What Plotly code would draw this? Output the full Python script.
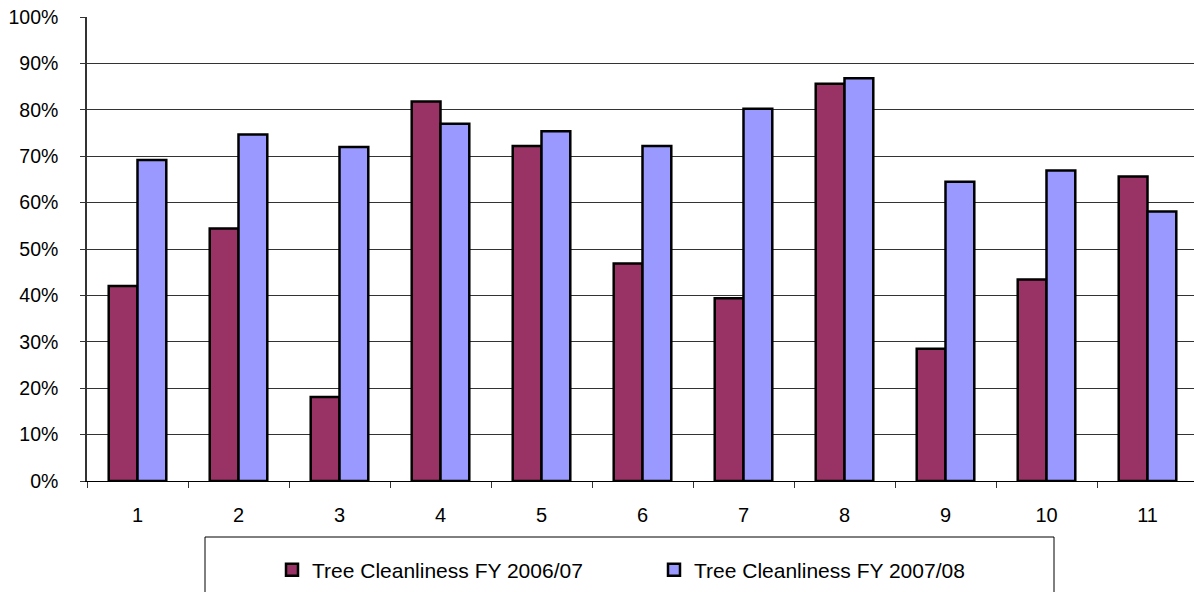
import plotly.graph_objects as go

categories = ["1", "2", "3", "4", "5", "6", "7", "8", "9", "10", "11"]
fy_2006_07 = [42.0, 54.4, 18.1, 81.8, 72.2, 46.9, 39.4, 85.6, 28.5, 43.4, 65.6]
fy_2007_08 = [69.2, 74.7, 72.0, 77.0, 75.4, 72.2, 80.2, 86.8, 64.5, 66.9, 58.1]
series_names = ["Tree Cleanliness FY 2006/07", "Tree Cleanliness FY 2007/08"]
y_ticks = [0, 10, 20, 30, 40, 50, 60, 70, 80, 90, 100]
y_tick_labels = ["0%", "10%", "20%", "30%", "40%", "50%", "60%", "70%", "80%", "90%", "100%"]

W, H = 1194, 592
L, R, T, B = 87, 0, 17, 111
pw, ph = W - L - R, H - T - B

def px_x(p):
    return (p - L) / pw

def px_y(p):
    return (H - B - p) / ph

FONT = "Liberation Sans, Arial, sans-serif"

fig = go.Figure()
fig.add_trace(go.Bar(x=categories, y=fy_2006_07, name=series_names[0],
                     marker=dict(color="#993366", line=dict(color="black", width=2.5))))
fig.add_trace(go.Bar(x=categories, y=fy_2007_08, name=series_names[1],
                     marker=dict(color="#9999FF", line=dict(color="black", width=2.5))))

fig.update_layout(
    width=W, height=H,
    margin=dict(l=L, r=R, t=T, b=B, pad=0),
    paper_bgcolor="white", plot_bgcolor="white",
    barmode="group", bargap=0.43, bargroupgap=0,
    font=dict(family=FONT, size=19, color="black"),
    showlegend=True,
    legend=dict(orientation="h", x=px_x(272), y=px_y(570), xanchor="left", yanchor="middle",
                bgcolor="rgba(0,0,0,0)", borderwidth=0, font=dict(size=21),
                entrywidth=337, entrywidthmode="pixels", itemwidth=30,
                traceorder="normal"),
    xaxis=dict(type="category", range=[-0.5, 10.5 - (L + 11 * 101 - W) / 101],
               showline=True, linecolor="black", linewidth=1,
               ticks="outside", ticklen=6, tickcolor="#333", tickwidth=1,
               tickson="boundaries", showgrid=False, ticklabelstandoff=16,
               tickfont=dict(size=20)),
    yaxis=dict(range=[0, 100], tickmode="array", tickvals=y_ticks, ticktext=y_tick_labels,
               showline=True, linecolor="#333", linewidth=1.5,
               ticks="outside", ticklen=5, tickcolor="#333", tickwidth=1,
               showgrid=True, gridcolor="#333", gridwidth=1,
               zeroline=False, ticklabelstandoff=18, tickfont=dict(size=19.5)),
    shapes=[dict(type="rect", xref="paper", yref="paper",
                 x0=px_x(205), x1=px_x(1054), y0=px_y(537), y1=px_y(640),
                 line=dict(color="black", width=1), fillcolor="rgba(0,0,0,0)")],
)

fig.write_html("out.html", config={"displayModeBar": False},
               post_script="document.body.style.margin='0';document.body.style.overflow='hidden';")
